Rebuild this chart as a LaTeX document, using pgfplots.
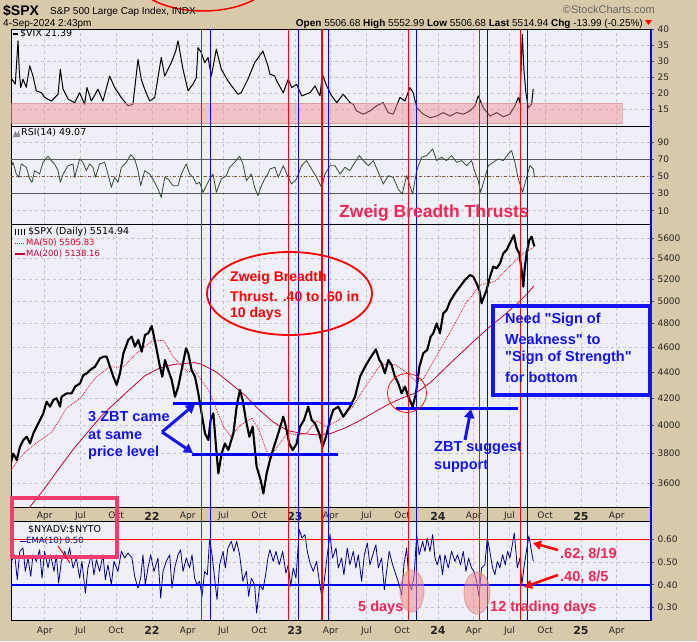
\documentclass[border=0pt]{standalone}
\usepackage{fontspec}
\setmainfont{Liberation Sans}
\newfontfamily\dejavu{DejaVu Sans}
\usepackage{pgfplots}
\pgfplotsset{compat=1.18}
\usetikzlibrary{arrows.meta}

\definecolor{bgbeige}{RGB}{216,201,171}
\definecolor{plotbg}{RGB}{239,239,247}
\definecolor{gridc}{RGB}{195,195,200}
\definecolor{rsigreen}{RGB}{50,75,50}
\definecolor{ma50}{RGB}{230,0,30}
\definecolor{ma200}{RGB}{200,0,50}
\definecolor{zbtred}{RGB}{238,40,85}
\definecolor{navyline}{RGB}{0,0,140}
\definecolor{annblue}{RGB}{20,20,235}
\definecolor{bandpink}{RGB}{241,143,142}
\definecolor{boxpink}{RGB}{240,60,110}
% straight double quote, from a font loaded without the tex-text mapping
\font\qfont="Liberation Sans/B" at 14.5pt
\newcommand{\q}{{\qfont\char34}}

\pgfplotsset{
  panel/.style={
    scale only axis, width=640pt, anchor=north west,
    xmin=2021.014, xmax=2025.49,
    axis background/.style={fill=plotbg},
    axis line style={black, line width=1pt},
    xtick={2021.25,2021.5,2021.75,2022,2022.25,2022.5,2022.75,2023,2023.25,2023.5,2023.75,2024,2024.25,2024.5,2024.75,2025,2025.25},
    xmajorgrids, ymajorgrids,
    grid style={gridc, dashed, line width=0.5pt},
    ytick pos=right, yticklabel pos=right,
    tick align=outside, major tick length=3pt,
    ytick style={black!70, line width=0.6pt},
    xtick style={draw=none},
    ticklabel style={font=\dejavu\fontsize{9}{10}\selectfont, text=black!85},
    /pgf/number format/assume math mode=true,
    xticklabels={},
  },
  datelabels/.style={
    xticklabels={Apr,Jul,Oct,{\fontsize{11}{11}\selectfont\bfseries 22},Apr,Jul,Oct,{\fontsize{11}{11}\selectfont\bfseries 23},Apr,Jul,Oct,{\fontsize{11}{11}\selectfont\bfseries 24},Apr,Jul,Oct,{\fontsize{11}{11}\selectfont\bfseries 25},Apr},
  },
}

\begin{document}
\begin{tikzpicture}
\fill[bgbeige] (0pt,0pt) rectangle (697pt,-641pt);
\useasboundingbox (0pt,0pt) rectangle (697pt,-641pt);

% ---------------- VIX panel
\begin{axis}[panel, at={(11pt,-29pt)}, height=97pt,
  ymin=9.9, ymax=40.2,
  ytick={15,20,25,30,35,40}, yticklabels={15,20,25,30,35,40}]
\addplot[black, line width=1pt, line join=round] coordinates {
(2021.014,23.5) (2021.021,24.5) (2021.044,23) (2021.063,36.5) (2021.072,27) (2021.082,21.9)
(2021.098,24.5) (2021.121,22) (2021.145,28.7) (2021.168,25.5) (2021.191,20.9) (2021.226,20.3)
(2021.250,18.8) (2021.296,17.7) (2021.343,19.8) (2021.359,27.6) (2021.378,21.4) (2021.413,18.3)
(2021.459,17.2) (2021.494,20.3) (2021.529,16.7) (2021.545,21.9) (2021.576,17.7) (2021.622,21.4)
(2021.657,17.7) (2021.704,25.5) (2021.739,21.9) (2021.785,18.8) (2021.832,16.2) (2021.867,16.7)
(2021.902,30.7) (2021.925,24.5) (2021.949,21.4) (2021.984,17.7) (2022.019,18.8) (2022.065,31.3)
(2022.089,25.5) (2022.135,29.7) (2022.166,33.3) (2022.182,36.5) (2022.217,27.6) (2022.252,20.9)
(2022.287,23) (2022.310,25) (2022.322,34.4) (2022.345,32.8) (2022.369,29.7) (2022.392,31.3)
(2022.415,25.5) (2022.450,33.9) (2022.485,27.6) (2022.531,24) (2022.601,19.8) (2022.624,20.3)
(2022.671,24.5) (2022.718,29.7) (2022.776,33.3) (2022.811,28.7) (2022.825,26.1) (2022.858,25.5)
(2022.872,24) (2022.918,20.3) (2022.953,24.5) (2022.977,21.9) (2023.012,22.9) (2023.047,19.3)
(2023.105,20.3) (2023.140,22.4) (2023.175,19.3) (2023.191,26.1) (2023.222,22.4) (2023.257,19.3)
(2023.292,17.2) (2023.338,19.8) (2023.385,17.2) (2023.408,16.7) (2023.431,14.6) (2023.478,13.6)
(2023.524,14.6) (2023.571,16.2) (2023.617,17.2) (2023.652,14.1) (2023.687,13.6) (2023.734,18.8)
(2023.769,17.7) (2023.804,21.9) (2023.827,20.3) (2023.851,15.6) (2023.897,13.6) (2023.944,12.5)
(2023.991,13) (2024.037,14.1) (2024.084,13) (2024.131,14.1) (2024.177,13.6) (2024.224,14.6)
(2024.259,16.2) (2024.282,19.3) (2024.317,15.6) (2024.364,13) (2024.410,14.1) (2024.457,12.8)
(2024.503,13.6) (2024.538,16.2) (2024.562,18.8) (2024.573,17.2) (2024.590,38.5) (2024.601,27.6)
(2024.615,20.3) (2024.632,15.6) (2024.655,16.7) (2024.666,21.4)
};
\fill[bandpink, fill opacity=0.45] (axis cs:2021.014,10.6) rectangle (axis cs:2025.287,17.0);
\draw[bandpink!85!black, opacity=0.5, line width=0.6pt] (axis cs:2021.014,10.6) rectangle (axis cs:2025.287,17.0);
\end{axis}

% ---------------- RSI panel
\begin{axis}[panel, at={(11pt,-126pt)}, height=99pt,
  ymin=-6.6, ymax=108.5,
  ytick={10,30,50,70,90}, yticklabels={10,30,50,70,90}]
\addplot[black!65, line width=0.8pt] coordinates {(2021.014,70) (2025.49,70)};
\addplot[black!65, line width=0.8pt] coordinates {(2021.014,30) (2025.49,30)};
\addplot[brown!70!black, line width=0.7pt, dash dot] coordinates {(2021.014,50) (2025.49,50)};
\addplot[rsigreen, line width=0.8pt, line join=round] coordinates {
(2021.014,60) (2021.028,66.3) (2021.051,52.7) (2021.068,48.8) (2021.086,64.4) (2021.121,60.5)
(2021.145,46.9) (2021.161,43) (2021.179,56.6) (2021.214,52.7) (2021.238,66.3) (2021.273,73.3)
(2021.296,68.3) (2021.319,64.4) (2021.343,56.6) (2021.359,43) (2021.378,52.7) (2021.413,62.4)
(2021.448,64.4) (2021.459,48.8) (2021.494,70.2) (2021.517,66.3) (2021.541,56.6) (2021.564,64.4)
(2021.587,60.5) (2021.604,48.8) (2021.634,64.4) (2021.669,66.3) (2021.692,52.7) (2021.716,37.2)
(2021.739,48.8) (2021.762,43) (2021.786,60.5) (2021.821,66.3) (2021.851,75.2) (2021.879,70.2)
(2021.902,56.6) (2021.921,39.1) (2021.949,56.6) (2021.984,52.7) (2022.019,43) (2022.042,35.2)
(2022.065,25.5) (2022.089,48.8) (2022.112,46.9) (2022.147,39.1) (2022.182,39.1) (2022.205,52.7)
(2022.240,64.4) (2022.263,52.7) (2022.287,48.8) (2022.310,41.1) (2022.333,43) (2022.357,31.4)
(2022.380,39.1) (2022.403,46.9) (2022.427,52.7) (2022.450,31.4) (2022.485,46.9) (2022.520,50.8)
(2022.543,60.5) (2022.578,66.3) (2022.613,73.3) (2022.636,64.4) (2022.660,45) (2022.695,52.7)
(2022.718,37.2) (2022.741,27.5) (2022.765,39.1) (2022.788,46.9) (2022.811,52.7) (2022.825,58.5)
(2022.860,60.5) (2022.883,48.8) (2022.918,62.4) (2022.953,48.8) (2022.977,41.1) (2023.011,46.9)
(2023.046,62.4) (2023.081,68.3) (2023.116,58.5) (2023.151,48.8) (2023.186,37.2) (2023.210,52.7)
(2023.245,62.4) (2023.280,62.4) (2023.315,52.7) (2023.349,60.5) (2023.384,56.6) (2023.419,66.3)
(2023.450,74.1) (2023.478,68.3) (2023.513,62.4) (2023.548,68.3) (2023.583,54.7) (2023.618,41.1)
(2023.653,50.8) (2023.687,48.8) (2023.722,35.2) (2023.750,29.4) (2023.781,50.8) (2023.804,39.1)
(2023.823,29.4) (2023.851,56.6) (2023.886,72.1) (2023.921,74.1) (2023.963,81.8) (2023.991,68.3)
(2024.025,72.1) (2024.060,68.3) (2024.095,74.1) (2024.130,66.3) (2024.165,68.3) (2024.200,62.4)
(2024.235,68.3) (2024.259,54.7) (2024.282,45) (2024.298,31.4) (2024.329,48.8) (2024.352,62.4)
(2024.387,66.3) (2024.422,70.2) (2024.457,68.3) (2024.492,76) (2024.515,79.9) (2024.538,66.3)
(2024.562,46.9) (2024.592,31.4) (2024.620,48.8) (2024.643,62.4) (2024.667,58.5) (2024.675,49.07)
};
\end{axis}

% ---------------- SPX panel (log scale)
\begin{axis}[panel, datelabels, at={(11pt,-225pt)}, height=283pt,
  ymode=log, ymin=3446, ymax=5732,
  ytick={3600,3800,4000,4200,4400,4600,4800,5000,5200,5400,5600},
  yticklabels={3600,3800,4000,4200,4400,4600,4800,5000,5200,5400,5600},
  xticklabel style={inner sep=1pt}]
% MA(200)
\addplot[ma200, line width=0.8pt] coordinates {
(2021.10,3400) (2021.14,3446) (2021.25,3570) (2021.35,3700) (2021.45,3830) (2021.55,3950)
(2021.65,4070) (2021.75,4170) (2021.85,4270) (2021.95,4370) (2022.05,4430) (2022.15,4460)
(2022.25,4470) (2022.30,4475) (2022.35,4460) (2022.45,4400) (2022.55,4310) (2022.65,4220)
(2022.75,4110) (2022.85,4020) (2022.95,3960) (2023.05,3940) (2023.15,3930) (2023.25,3940)
(2023.35,3980) (2023.45,4030) (2023.55,4090) (2023.65,4150) (2023.75,4200) (2023.85,4240)
(2023.95,4320) (2024.05,4430) (2024.15,4540) (2024.25,4650) (2024.35,4760) (2024.45,4860)
(2024.55,4970) (2024.62,5060) (2024.672,5138)
};
% MA(50)
\addplot[ma50, line width=0.8pt, densely dotted] coordinates {
(2021.014,3690) (2021.10,3800) (2021.20,3880) (2021.30,3950) (2021.40,4120) (2021.50,4200)
(2021.60,4350) (2021.70,4440) (2021.80,4440) (2021.90,4560) (2022.00,4650) (2022.08,4660)
(2022.15,4520) (2022.25,4400) (2022.30,4410) (2022.40,4250) (2022.50,3990) (2022.55,3920)
(2022.62,4000) (2022.70,4050) (2022.75,3960) (2022.82,3770) (2022.88,3850) (2022.95,3950)
(2023.00,3930) (2023.08,3940) (2023.15,4030) (2023.22,3990) (2023.30,4030) (2023.40,4130)
(2023.50,4300) (2023.60,4460) (2023.70,4460) (2023.80,4380) (2023.85,4320) (2023.90,4350)
(2024.00,4550) (2024.10,4760) (2024.20,4990) (2024.30,5150) (2024.35,5160) (2024.40,5180)
(2024.50,5320) (2024.60,5450) (2024.672,5506)
};
% SPX daily
\addplot[black, line width=2.1pt, line join=round] coordinates {
(2021.014,3740) (2021.030,3800) (2021.054,3756) (2021.077,3847) (2021.100,3894) (2021.124,3917)
(2021.147,3870) (2021.170,3940) (2021.193,3988) (2021.217,4036) (2021.240,4085) (2021.263,4171)
(2021.287,4134) (2021.310,4184) (2021.333,4197) (2021.357,4134) (2021.368,4209) (2021.403,4234)
(2021.438,4234) (2021.462,4286) (2021.497,4311) (2021.520,4376) (2021.543,4389) (2021.566,4415)
(2021.601,4442) (2021.636,4509) (2021.660,4523) (2021.683,4523) (2021.706,4442) (2021.730,4363)
(2021.753,4299) (2021.776,4389) (2021.800,4550) (2021.834,4661) (2021.858,4689) (2021.881,4605)
(2021.904,4661) (2021.928,4564) (2021.951,4703) (2021.974,4717) (2021.998,4780) (2022.014,4689)
(2022.033,4578) (2022.056,4442) (2022.072,4363) (2022.091,4496) (2022.114,4415) (2022.138,4337)
(2022.161,4209) (2022.184,4286) (2022.207,4415) (2022.238,4592) (2022.254,4550) (2022.277,4415)
(2022.301,4363) (2022.324,4234) (2022.347,4085) (2022.371,3940) (2022.394,3894) (2022.410,4036)
(2022.429,4085) (2022.448,3847) (2022.464,3667) (2022.487,3801) (2022.510,3870) (2022.534,3824)
(2022.569,3940) (2022.592,4134) (2022.615,4260) (2022.634,4184) (2022.657,4036) (2022.681,3917)
(2022.704,3988) (2022.732,3711) (2022.760,3623) (2022.779,3537) (2022.802,3667) (2022.825,3756)
(2022.853,3847) (2022.883,3940) (2022.918,4060) (2022.937,3988) (2022.960,3870) (2022.984,3824)
(2023.012,3870) (2023.035,3988) (2023.063,4036) (2023.093,4134) (2023.117,4036) (2023.140,4012)
(2023.170,3940) (2023.193,3847) (2023.217,3917) (2023.245,4036) (2023.268,4110) (2023.303,4134)
(2023.338,4060) (2023.385,4134) (2023.420,4209) (2023.455,4363) (2023.490,4442) (2023.525,4510)
(2023.548,4550) (2023.566,4583) (2023.590,4496) (2023.606,4469) (2023.629,4390) (2023.653,4496)
(2023.676,4455) (2023.699,4363) (2023.723,4311) (2023.746,4234) (2023.769,4286) (2023.793,4209)
(2023.823,4134) (2023.846,4234) (2023.870,4442) (2023.897,4550) (2023.925,4578) (2023.949,4689)
(2023.967,4717) (2023.991,4802) (2024.014,4717) (2024.037,4890) (2024.061,4919) (2024.084,4994)
(2024.119,5069) (2024.154,5130) (2024.189,5192) (2024.224,5238) (2024.247,5223) (2024.270,5160)
(2024.289,5099) (2024.305,4979) (2024.322,5038) (2024.340,5099) (2024.364,5223) (2024.387,5318)
(2024.410,5302) (2024.434,5350) (2024.457,5446) (2024.480,5479) (2024.508,5562) (2024.531,5629)
(2024.550,5497) (2024.569,5446) (2024.585,5286) (2024.597,5130) (2024.608,5318) (2024.620,5446)
(2024.639,5579) (2024.655,5612) (2024.668,5546) (2024.675,5515)
};
\end{axis}

% ---------------- NYADV:NYTOT panel
\begin{axis}[panel, datelabels, at={(11pt,-521pt)}, height=99pt,
  ymin=0.2445, ymax=0.681,
  ytick={0.3,0.4,0.5,0.6}, yticklabels={0.30,0.40,0.50,0.60}]
\addplot[red, line width=0.8pt] coordinates {(2021.014,0.6) (2025.49,0.6)};
\addplot[navyline, line width=0.8pt, line join=round] coordinates {
(2021.014,0.50) (2021.040,0.532) (2021.058,0.422) (2021.075,0.547) (2021.098,0.562) (2021.114,0.459)
(2021.133,0.518) (2021.152,0.437) (2021.168,0.532) (2021.191,0.503) (2021.214,0.554) (2021.231,0.429)
(2021.249,0.547) (2021.273,0.474) (2021.291,0.532) (2021.315,0.459) (2021.331,0.532) (2021.347,0.407)
(2021.366,0.503) (2021.389,0.547) (2021.408,0.518) (2021.424,0.562) (2021.448,0.474) (2021.471,0.518)
(2021.494,0.429) (2021.510,0.503) (2021.534,0.363) (2021.552,0.474) (2021.576,0.532) (2021.594,0.444)
(2021.611,0.510) (2021.634,0.459) (2021.657,0.532) (2021.674,0.422) (2021.692,0.488) (2021.716,0.400)
(2021.734,0.503) (2021.762,0.459) (2021.786,0.547) (2021.809,0.518) (2021.832,0.540) (2021.860,0.518)
(2021.879,0.437) (2021.902,0.385) (2021.921,0.429) (2021.937,0.532) (2021.953,0.400) (2021.972,0.474)
(2021.991,0.532) (2022.014,0.459) (2022.042,0.518) (2022.061,0.341) (2022.077,0.459) (2022.100,0.503)
(2022.124,0.532) (2022.140,0.385) (2022.159,0.474) (2022.182,0.532) (2022.200,0.554) (2022.217,0.459)
(2022.240,0.518) (2022.263,0.474) (2022.280,0.532) (2022.298,0.429) (2022.315,0.400) (2022.333,0.415)
(2022.350,0.349) (2022.368,0.459) (2022.387,0.444) (2022.403,0.599) (2022.420,0.532) (2022.438,0.429)
(2022.455,0.334) (2022.473,0.488) (2022.497,0.547) (2022.513,0.474) (2022.531,0.562) (2022.555,0.591)
(2022.573,0.547) (2022.592,0.591) (2022.613,0.532) (2022.636,0.415) (2022.660,0.459) (2022.676,0.349)
(2022.695,0.429) (2022.718,0.400) (2022.732,0.275) (2022.753,0.400) (2022.776,0.378) (2022.793,0.437)
(2022.811,0.518) (2022.825,0.554) (2022.848,0.503) (2022.867,0.547) (2022.890,0.488) (2022.914,0.547)
(2022.937,0.451) (2022.953,0.488) (2022.970,0.393) (2022.988,0.474) (2023.007,0.429) (2023.030,0.643)
(2023.049,0.606) (2023.070,0.621) (2023.086,0.547) (2023.105,0.496) (2023.128,0.459) (2023.151,0.503)
(2023.170,0.415) (2023.189,0.341) (2023.210,0.444) (2023.226,0.532) (2023.245,0.621) (2023.263,0.518)
(2023.287,0.562) (2023.303,0.474) (2023.326,0.518) (2023.342,0.444) (2023.366,0.562) (2023.384,0.488)
(2023.408,0.547) (2023.426,0.474) (2023.443,0.532) (2023.466,0.415) (2023.485,0.532) (2023.506,0.584)
(2023.524,0.488) (2023.548,0.540) (2023.566,0.576) (2023.583,0.474) (2023.606,0.518) (2023.625,0.378)
(2023.641,0.459) (2023.659,0.547) (2023.683,0.488) (2023.706,0.444) (2023.729,0.400) (2023.746,0.356)
(2023.762,0.488) (2023.781,0.562) (2023.799,0.400) (2023.816,0.378) (2023.834,0.444) (2023.851,0.621)
(2023.869,0.532) (2023.893,0.591) (2023.909,0.547) (2023.925,0.606) (2023.944,0.547) (2023.963,0.621)
(2023.979,0.518) (2023.995,0.488) (2024.014,0.532) (2024.032,0.444) (2024.049,0.532) (2024.072,0.474)
(2024.095,0.547) (2024.119,0.503) (2024.137,0.532) (2024.158,0.488) (2024.177,0.547) (2024.196,0.459)
(2024.214,0.518) (2024.235,0.474) (2024.252,0.459) (2024.270,0.415) (2024.287,0.349) (2024.305,0.474)
(2024.328,0.488) (2024.345,0.606) (2024.363,0.547) (2024.382,0.474) (2024.398,0.444) (2024.415,0.503)
(2024.433,0.474) (2024.452,0.532) (2024.471,0.488) (2024.487,0.547) (2024.503,0.518) (2024.520,0.576)
(2024.534,0.628) (2024.555,0.474) (2024.573,0.518) (2024.587,0.400) (2024.601,0.474) (2024.620,0.554)
(2024.636,0.615) (2024.650,0.562) (2024.667,0.503)
};
\addplot[blue, line width=2.2pt] coordinates {(2021.014,0.4) (2025.49,0.4)};
\end{axis}

\begin{scope}[x=1pt, y=1pt]
% vertical marker lines across all panels
\foreach \xx in {201.3,288.3,408.3,479.3,520.7}
  \draw[red, line width=1pt] (\xx,-29) -- (\xx,-620);
\draw[red, line width=2pt] (322.3,-29) -- (322.3,-620);
\foreach \xx in {210.3,298.3,328.7,416.3,487.3,527.3}
  \draw[blue, line width=1pt] (\xx,-29) -- (\xx,-620);
\draw[blue, line width=1.3pt] (651,-29) -- (651,-620);

% header
\draw[red, line width=1.5pt] (203,25) ellipse [x radius=70pt, y radius=36pt];
\node[anchor=base west, inner sep=0pt, font=\bfseries\fontsize{14}{14}\selectfont] at (3,-15) {\$SPX};
\node[anchor=base west, inner sep=0pt, font=\fontsize{10}{10}\selectfont] at (50,-14) {S\&P 500 Large Cap Index, INDX};
\node[anchor=base west, inner sep=0pt, font=\fontsize{10}{10}\selectfont] at (3,-26) {4-Sep-2024 2:43pm};
\node[anchor=base east, inner sep=0pt, font=\fontsize{10}{10}\selectfont] at (643,-26)
  {\textbf{Open} 5506.68 \textbf{High} 5552.99 \textbf{Low} 5506.68 \textbf{Last} 5514.94 \textbf{Chg} -13.99 (-0.25\%)};
\fill[red] (645,-20) -- (652,-20) -- (648.5,-25) -- cycle;
\node[anchor=base east, inner sep=0pt, text=black!60, font=\fontsize{11}{11}\selectfont] at (655,-13) {©StockCharts.com};

% panel legends
\draw[black, line width=2pt] (13,-34) -- (18,-34);
\node[anchor=west, inner sep=0pt, font=\dejavu\fontsize{9.5}{10}\selectfont] at (20,-34) {\$VIX 21.39};
\fill[black!45] (13,-137) -- (15,-131) -- (17,-134) -- (19,-130) -- (20,-137) -- cycle;
\node[anchor=west, inner sep=0pt, font=\dejavu\fontsize{9.5}{10}\selectfont] at (21,-133) {RSI(14) 49.07};
\foreach \xx in {15,18,21,24} \draw[black, line width=0.9pt] (\xx,-229) -- (\xx,-235);
\node[anchor=west, inner sep=0pt, font=\dejavu\fontsize{9.5}{10}\selectfont] at (28,-232) {\$SPX (Daily) 5514.94};
\draw[ma50, line width=1pt, densely dotted] (15,-243) -- (25,-243);
\node[anchor=west, inner sep=0pt, text=ma50, font=\dejavu\fontsize{8.5}{10}\selectfont] at (26,-243) {MA(50) 5505.83};
\draw[ma200, line width=1.2pt] (15,-254) -- (25,-254);
\node[anchor=west, inner sep=0pt, text=ma200, font=\dejavu\fontsize{8.5}{10}\selectfont] at (26,-254) {MA(200) 5138.16};
\node[anchor=west, inner sep=0pt, font=\dejavu\fontsize{9.5}{10}\selectfont] at (28,-530) {\$NYADV:\$NYTO};
\draw[navyline, line width=1pt] (20,-541) -- (26,-541);
\node[anchor=west, inner sep=0pt, text=navyline, font=\dejavu\fontsize{8.5}{10}\selectfont] at (26,-541) {EMA(10) 0.50};

% annotations
\node[text=zbtred, font=\bfseries\fontsize{17.5}{18}\selectfont] at (434,-213) {Zweig Breadth Thrusts};
\draw[red, line width=1.8pt] (289.5,-293.5) ellipse [x radius=82.5pt, y radius=41.5pt];
\begin{scope}[every node/.style={anchor=west, inner sep=0pt, text=red, font=\bfseries\fontsize{14}{14}\selectfont}]
\node at (230,-278) {Zweig Breadth};
\node at (230,-296) {Thrust. .40 to .60 in};
\node at (230,-314) {10 days};
\end{scope}
\begin{scope}[every node/.style={anchor=west, inner sep=0pt, text=annblue, font=\bfseries\fontsize{14.5}{15}\selectfont}]
\node at (88,-417) {3 ZBT came};
\node at (88,-435) {at same};
\node at (88,-453) {price level};
\node at (434,-448) {ZBT suggest};
\node at (434,-466) {support};
\node at (505,-320) {Need \q Sign of};
\node at (505,-339) {Weakness\q\ to};
\node at (505,-358) {\q Sign of Strength\q};
\node at (505,-377) {for bottom};
\end{scope}
\draw[blue, line width=3pt] (173,-403) -- (353,-403);
\draw[blue, line width=3pt] (192,-454) -- (338,-454);
\draw[blue, line width=3pt] (396,-408) -- (518,-408);
\draw[annblue, line width=3pt, -{Triangle[length=9pt,width=10pt]}] (162,-432) -- (195,-404);
\draw[annblue, line width=3pt, -{Triangle[length=9pt,width=10pt]}] (162,-432) -- (193,-453);
\draw[annblue, line width=3pt, -{Triangle[length=9pt,width=10pt]}] (465,-440) -- (471,-409);
\draw[red, line width=0.7pt] (407,-393) circle [radius=19.5pt];
\draw[annblue, line width=4pt] (493,-306) rectangle (650,-395);

% NYADV annotations
\fill[bandpink, fill opacity=0.55] (412,-591) ellipse [x radius=12pt, y radius=21pt];
\draw[bandpink!85!black, opacity=0.5, line width=1pt] (412,-591) ellipse [x radius=12pt, y radius=21pt];
\fill[bandpink, fill opacity=0.55] (477,-593) ellipse [x radius=13pt, y radius=21pt];
\draw[bandpink!85!black, opacity=0.5, line width=1pt] (477,-593) ellipse [x radius=13pt, y radius=21pt];
\begin{scope}[every node/.style={anchor=west, inner sep=0pt, text=zbtred, font=\bfseries\fontsize{14.5}{15}\selectfont}]
\node at (358,-608) {5 days};
\node at (490,-608) {12 trading days};
\node at (560,-554) {.62, 8/19};
\node at (560,-577) {.40, 8/5};
\end{scope}
\draw[red, line width=2.5pt, -{Triangle[length=8pt,width=9pt]}] (558,-550) -- (533,-543);
\draw[red, line width=2.5pt, -{Triangle[length=8pt,width=9pt]}] (558,-575) -- (524,-587);

% pink frame bottom left
\draw[boxpink, line width=3.5pt] (12,-498) rectangle (117,-557);
\draw[red, line width=1pt] (58,-546) -- (70,-563);
\end{scope}
\end{tikzpicture}
\end{document}
